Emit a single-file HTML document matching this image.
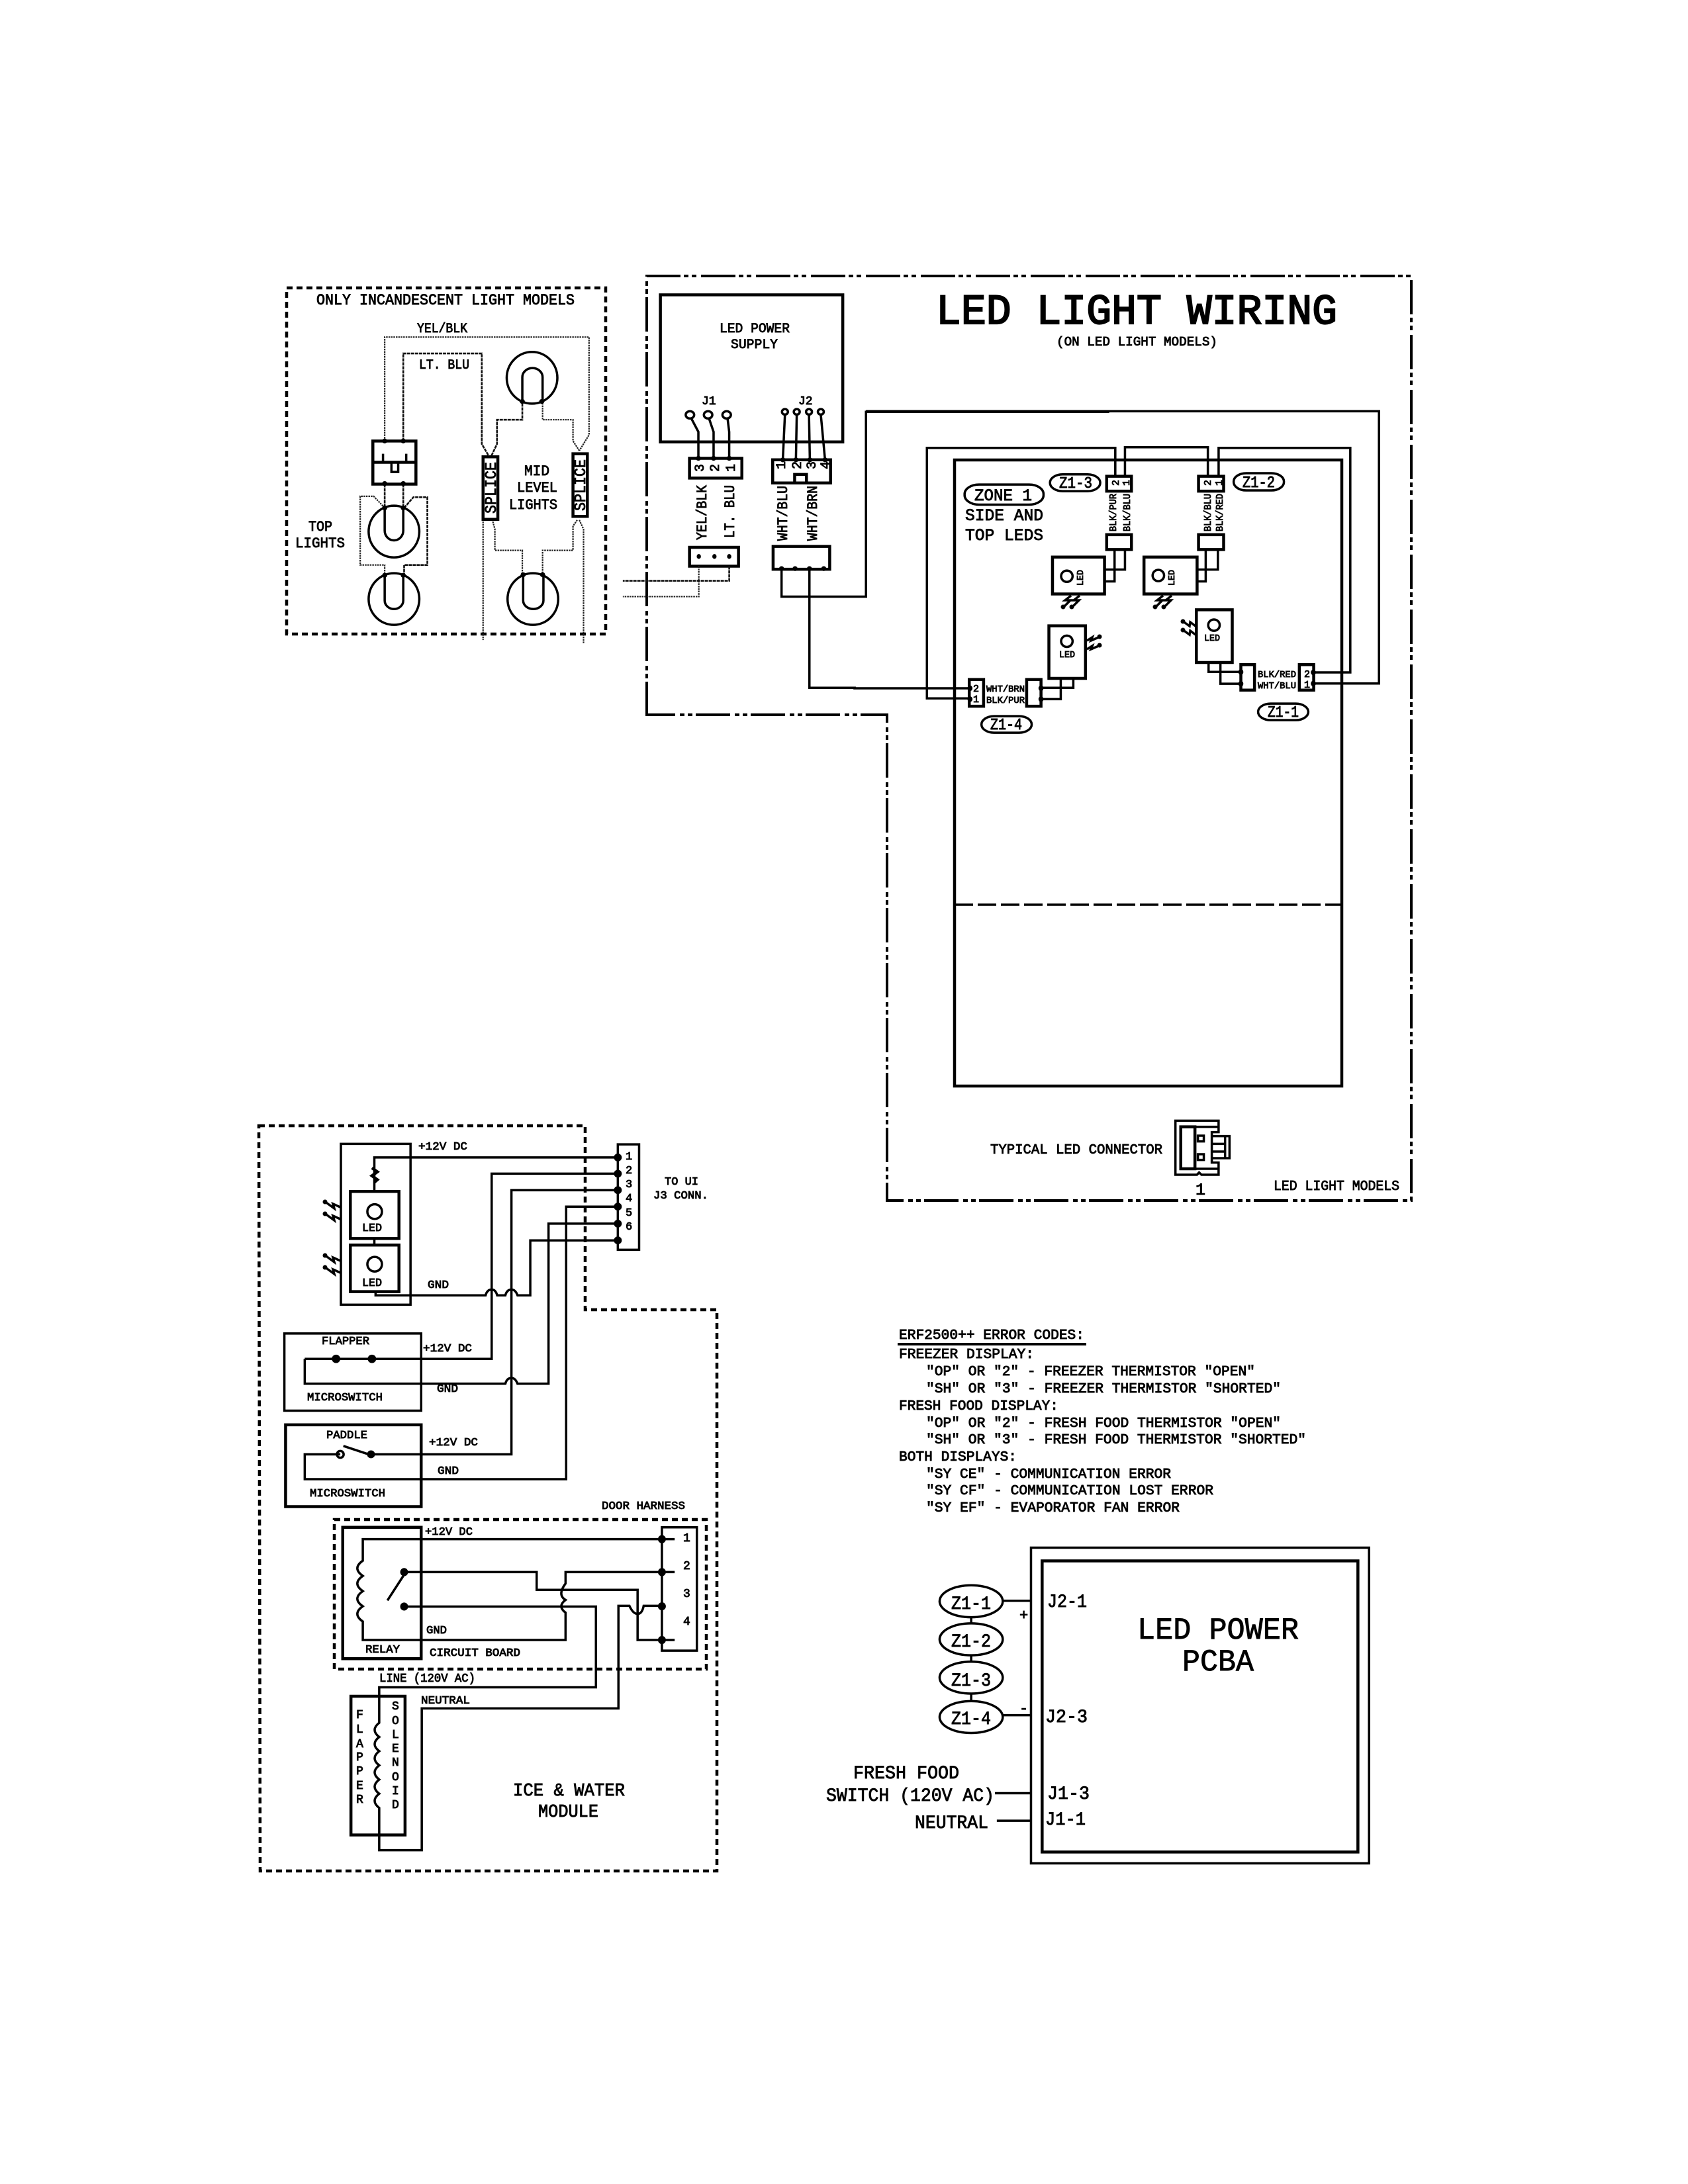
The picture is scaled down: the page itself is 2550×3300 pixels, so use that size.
<!DOCTYPE html>
<html><head><meta charset="utf-8"><style>
html,body{margin:0;padding:0;background:#fff}
svg{display:block}
path,rect,ellipse,line{vector-effect:non-scaling-stroke;fill:none;stroke:#000;stroke-width:3.5;stroke-linejoin:miter}
.k{stroke-width:4.5}
.d{stroke-width:2.2;stroke-dasharray:2.5 1.2;stroke:#222}
.g{stroke-width:2.6;stroke-dasharray:5 1;stroke:#111}
.dot{fill:#000;stroke:none}
.dash{stroke-width:4.5;stroke-dasharray:9 6}
.dd{stroke-width:4;stroke-dasharray:52 5 7 5 7 7}
text{font-family:"Liberation Mono",monospace;font-weight:normal;fill:#000;stroke:#000;stroke-width:.9;font-size:20px}
</style></head><body>
<svg width="2550" height="3300" viewBox="0 0 2550 3300" xmlns="http://www.w3.org/2000/svg">
<rect x="0" y="0" width="2550" height="3300" style="fill:#fff;stroke:none"/>

<!-- outer dashed boxes -->
<path class="dash" d="M433,435 H915 V958 H433 Z"/>
<path class="dd" d="M977,1082 V417 H2132 V1814 H1340 V1080 H977"/>
<path class="dash" d="M391,1701 H884 V1979 H1083 V2827 H393 Z"/>
<path class="dash" d="M505,2296 H1067 V2522 H505 Z"/>

<!-- incandescent -->
<g transform="translate(400 400) scale(.6378 .4592)">
<path class="d" d="M284,580 V238 H768 V560 L745,612"/>
<path class="g" d="M328,580 V292 H514 V590 L530,628"/>
<path class="k" d="M517,632 H552 V838 H517 Z M730,622 H764 V828 H730 Z"/>
<path class="g" d="M537,628 L550,590 V510 H610 V450"/>
<path class="d" d="M745,612 L730,580 V510 H658 V450"/>
<path class="d" d="M517,845 V1235 M540,845 L545,870 V940 H610 V1020 M740,840 L730,860 V940 H658 V1020 M745,840 L755,870 V1245"/>
<ellipse cx="633" cy="372" rx="60" ry="85"/><path d="M610,450 V370 a24,30 0 0 1 48,0 V450"/>
<ellipse cx="635" cy="1100" rx="60" ry="85"/><path d="M612,1020 V1105 a24,28 0 0 0 48,0 V1020"/>
<ellipse cx="306" cy="878" rx="60" ry="85"/><path d="M284,800 V875 a22,32 0 0 0 44,0 V800"/>
<ellipse cx="306" cy="1100" rx="60" ry="85"/><path d="M284,1022 V1105 a22,28 0 0 0 44,0 V1022"/>
<path class="k" d="M256,580 H358 V722 H256 Z M256,650 H358"/>
<path d="M300,650 V682 H316 V650 M280,622 V650 M335,622 V650"/>
<path class="g" d="M284,722 V800 M328,722 V800"/>
<path class="d" d="M284,800 L258,762 H226 V988 H284 V1022"/>
<path class="g" d="M330,800 L352,765 H385 V988 H330 V1022"/>
<ellipse class="dot" cx="284" cy="580" rx="6" ry="8"/><ellipse class="dot" cx="328" cy="580" rx="6" ry="8"/>
<ellipse class="dot" cx="284" cy="720" rx="6" ry="8"/><ellipse class="dot" cx="328" cy="720" rx="6" ry="8"/>
<ellipse class="dot" cx="284" cy="800" rx="6" ry="8"/><ellipse class="dot" cx="328" cy="800" rx="6" ry="8"/>
<ellipse class="dot" cx="284" cy="1022" rx="6" ry="8"/><ellipse class="dot" cx="328" cy="1022" rx="6" ry="8"/>
<ellipse class="dot" cx="610" cy="450" rx="6" ry="8"/><ellipse class="dot" cx="656" cy="450" rx="6" ry="8"/>
<ellipse class="dot" cx="612" cy="1020" rx="6" ry="8"/><ellipse class="dot" cx="658" cy="1020" rx="6" ry="8"/>

<!-- power supply -->
<path class="k" d="M937,99 H1369 V583 H937 Z"/>
<ellipse cx="1007" cy="494" rx="10" ry="12"/><ellipse cx="1050" cy="494" rx="10" ry="12"/><ellipse cx="1094" cy="494" rx="10" ry="12"/>
<ellipse cx="1232" cy="484" rx="7" ry="9"/><ellipse cx="1260" cy="484" rx="7" ry="9"/><ellipse cx="1289" cy="484" rx="7" ry="9"/><ellipse cx="1317" cy="484" rx="7" ry="9"/>
<path d="M1010,505 L1027,550 V637 M1052,505 L1063,550 V637 M1096,505 L1100,550 V637 M1232,493 L1227,642 M1260,493 L1258,642 M1289,493 L1291,642 M1317,493 L1327,642"/>
<path class="k" d="M1006,637 H1130 V702 H1006 Z M1203,642 H1340 V718 H1203 Z M1255,718 V690 H1283 V718"/>
<path d="M1006,930 H1122 V992 H1006 Z M1204,927 H1338 V1002 H1204 Z" class="k"/>
<ellipse class="dot" cx="1027" cy="637" rx="6" ry="8"/><ellipse class="dot" cx="1063" cy="637" rx="6" ry="8"/><ellipse class="dot" cx="1100" cy="637" rx="6" ry="8"/>
<ellipse class="dot" cx="1227" cy="642" rx="6" ry="8"/><ellipse class="dot" cx="1258" cy="642" rx="6" ry="8"/><ellipse class="dot" cx="1291" cy="642" rx="6" ry="8"/><ellipse class="dot" cx="1327" cy="642" rx="6" ry="8"/>
<ellipse class="dot" cx="1028" cy="960" rx="5" ry="8"/><ellipse class="dot" cx="1065" cy="960" rx="5" ry="8"/><ellipse class="dot" cx="1100" cy="960" rx="5" ry="8"/>
<ellipse class="dot" cx="1224" cy="1000" rx="6" ry="8"/><ellipse class="dot" cx="1256" cy="1000" rx="6" ry="8"/><ellipse class="dot" cx="1290" cy="1000" rx="6" ry="8"/><ellipse class="dot" cx="1324" cy="1000" rx="6" ry="8"/>
<path class="d" d="M1028,992 V1092 H848"/>
<path class="g" d="M1100,992 V1040 H848"/>
<path d="M1224,1000 V1092 H1424 V484 H2000"/>
<path d="M1290,1000 V1392 H1400"/>
</g>

<!-- LED wiring -->
<g transform="translate(1300 600) scale(.542 .3571)">
<path d="M15,60 H1445 V1212 H1262"/>
<path d="M710,335 V215 H185 V1275 H305 M737,335 V212 H968 V335 M998,335 V215 H1365 V1165 H1262 M-20,1232 H305"/>
<path class="k" d="M686,335 H755 V398 H686 Z M942,335 H1012 V398 H942 Z M686,582 H755 V645 H686 Z M942,582 H1012 V645 H942 Z"/>
<path d="M708,645 V780 H682 M737,645 V730 H682 M962,645 V780 H938 M996,645 V730 H938"/>
<path class="k" d="M535,677 H680 V833 H535 Z M790,677 H938 V833 H790 Z M525,968 H627 V1190 H525 Z M936,900 H1036 V1123 H936 Z"/>
<ellipse cx="575" cy="758" rx="16" ry="24"/><ellipse cx="830" cy="755" rx="16" ry="24"/><ellipse cx="575" cy="1033" rx="16" ry="24"/><ellipse cx="985" cy="965" rx="16" ry="24"/>
<path class="k" d="M303,1195 H343 V1308 H303 Z M463,1195 H503 V1308 H463 Z M1060,1132 H1098 V1240 H1060 Z M1223,1132 H1263 V1240 H1223 Z"/>
<path d="M503,1230 H593 V1190 M503,1278 H558 V1190 M970,1123 V1163 H1060 M1003,1123 V1213 H1060"/>
<ellipse class="dot" cx="305" cy="1232" rx="7" ry="12"/><ellipse class="dot" cx="305" cy="1278" rx="7" ry="12"/><ellipse class="dot" cx="503" cy="1232" rx="7" ry="12"/><ellipse class="dot" cx="503" cy="1278" rx="7" ry="12"/>
<ellipse class="dot" cx="1060" cy="1163" rx="7" ry="12"/><ellipse class="dot" cx="1060" cy="1213" rx="7" ry="12"/><ellipse class="dot" cx="1262" cy="1165" rx="7" ry="12"/><ellipse class="dot" cx="1262" cy="1212" rx="7" ry="12"/>
<rect x="528" y="327" width="140" height="71" rx="35" ry="35"/>
<rect x="1040" y="322" width="140" height="73" rx="35" ry="35"/>
<rect x="290" y="370" width="220" height="85" rx="40" ry="40"/>
<rect x="337" y="1350" width="140" height="70" rx="35" ry="35"/>
<rect x="1108" y="1297" width="140" height="70" rx="35" ry="35"/>
</g>
<path class="k" d="M1442,1641 V695 H2027 V1641 Z"/>
<path d="M1442,1367 H2027" style="stroke-dasharray:28 7;stroke-width:3.5"/>

<!-- lightning marks -->
<path d="M1618,900 L1609,907 L1617,907 L1606,918 M1631,900 L1622,907 L1630,907 L1619,918"/>
<path d="M1757,900 L1748,907 L1756,907 L1745,918 M1770,900 L1761,907 L1769,907 L1758,918"/>
<path d="M1642,968 L1650,963 L1648,968 L1662,962 M1642,981 L1650,976 L1648,981 L1662,975"/>
<path d="M1806,946 L1798,940 L1797,946 L1786,938 M1806,959 L1798,953 L1797,959 L1786,951"/>
<path d="M514,1824 L503,1819 L505,1826 L490,1815 M514,1842 L503,1837 L505,1844 L490,1833"/>
<path d="M514,1905 L503,1900 L505,1907 L490,1896 M514,1923 L503,1918 L505,1925 L490,1914"/>
<ellipse class="dot" cx="1606" cy="917" rx="3.5" ry="3.5"/><ellipse class="dot" cx="1619" cy="917" rx="3.5" ry="3.5"/>
<ellipse class="dot" cx="1745" cy="917" rx="3.5" ry="3.5"/><ellipse class="dot" cx="1758" cy="917" rx="3.5" ry="3.5"/>
<ellipse class="dot" cx="1661" cy="962" rx="3.5" ry="3.5"/><ellipse class="dot" cx="1661" cy="975" rx="3.5" ry="3.5"/>
<ellipse class="dot" cx="1787" cy="939" rx="3.5" ry="3.5"/><ellipse class="dot" cx="1787" cy="952" rx="3.5" ry="3.5"/>
<ellipse class="dot" cx="491" cy="1816" rx="3.5" ry="3.5"/><ellipse class="dot" cx="491" cy="1834" rx="3.5" ry="3.5"/>
<ellipse class="dot" cx="491" cy="1897" rx="3.5" ry="3.5"/><ellipse class="dot" cx="491" cy="1915" rx="3.5" ry="3.5"/>

<!-- typical connector -->
<g transform="translate(1440 1640) scale(.4464 .3333)">
<path d="M898,212 V160 H752 V405 H825 L832,395 L840,405 H898 V350 H875 V212 Z"/>
<path class="k" d="M770,188 H818 V378 H770 Z"/>
<path d="M818,188 H898 M818,378 H898 M875,230 H935 V330 H875 M920,230 V330 M875,265 H920 M875,300 H920"/>
<rect x="828" y="228" width="20" height="26"/><rect x="828" y="312" width="20" height="26"/>
</g>

<!-- door harness top -->
<g transform="translate(380 1660) scale(.4592 .3952)">
<path d="M294,173 H523 V788 H294 Z"/>
<path d="M404,350 V225 H1205"/>
<path class="k" d="M396,265 L414,280 L396,295 L414,310 L404,320"/>
<path class="k" d="M325,355 H485 V535 H325 Z M325,560 H485 V738 H325 Z"/>
<path d="M404,535 V560"/>
<ellipse cx="405" cy="432" rx="24" ry="28"/><ellipse cx="405" cy="633" rx="24" ry="28"/>
<path d="M408,738 V752 H770 Q775,730 790,730 Q803,730 808,752 H835 Q840,730 855,730 Q868,730 875,752 H917 V542 H1205"/>
<path d="M175,995 H790 V287 H1205"/>
<path d="M175,995 V1090 H835 Q840,1068 855,1068 Q868,1068 875,1090 H977 V478 H1205"/>
<path d="M292,1360 H175 V1455 H1035 V413 H1205"/>
<path d="M393,1360 H855 V350 H1205"/>
<path d="M302,1328 L385,1360"/>
<path d="M108,898 H558 V1193 H108 Z"/>
<path class="k" d="M112,1247 H558 V1560 H112 Z"/>
<path d="M1205,175 H1275 V578 H1205 Z"/>
<ellipse class="dot" cx="278" cy="995" rx="14" ry="16"/><ellipse class="dot" cx="396" cy="995" rx="14" ry="16"/>
<ellipse cx="292" cy="1360" rx="11" ry="13"/><ellipse class="dot" cx="393" cy="1360" rx="13" ry="15"/>
<ellipse class="dot" cx="1205" cy="225" rx="13" ry="15"/><ellipse class="dot" cx="1205" cy="287" rx="13" ry="15"/><ellipse class="dot" cx="1205" cy="350" rx="13" ry="15"/><ellipse class="dot" cx="1205" cy="413" rx="13" ry="15"/><ellipse class="dot" cx="1205" cy="478" rx="13" ry="15"/><ellipse class="dot" cx="1205" cy="542" rx="13" ry="15"/>
</g>

<!-- relay -->
<g transform="translate(380 2230) scale(.4592 .3827)">
<path class="k" d="M300,203 H558 V722 H300 Z"/>
<path d="M1392,250 H366 V335 Q330,365 366,395 Q330,425 366,455 Q330,485 366,515 Q330,545 366,575 V648 H1033 V540 Q1005,515 1033,490 Q1005,470 1033,425 V380 H1392"/>
<path d="M502,390 L447,492"/>
<path d="M502,380 H938 V450 H1270 V648 H1392"/>
<path d="M502,516 H1133 V835 H420 V975 Q390,1003 420,1031 Q390,1059 420,1087 Q390,1115 420,1143 Q390,1171 420,1199 Q390,1227 420,1255 Q390,1283 420,1311 V1478 H560 V918 H1207 V513 H1243 Q1255,545 1270,545 Q1285,545 1290,513 H1350"/>
<path d="M1350,250 V203 H1465 V690 H1350 V250"/>
<ellipse class="dot" cx="502" cy="380" rx="13" ry="16"/><ellipse class="dot" cx="502" cy="516" rx="13" ry="16"/>
<ellipse class="dot" cx="1350" cy="250" rx="13" ry="16"/><ellipse class="dot" cx="1350" cy="380" rx="13" ry="16"/><ellipse class="dot" cx="1350" cy="515" rx="13" ry="16"/><ellipse class="dot" cx="1350" cy="648" rx="13" ry="16"/>
<path class="k" d="M327,870 H505 V1418 H327 Z"/>
</g>

<!-- PCBA -->
<g transform="translate(1200 2280) scale(.5612 .3444)">
<path d="M637,170 H1547 V1555 H637 Z"/>
<path class="k" d="M667,228 H1517 V1505 H667 Z"/>
<ellipse cx="476" cy="405" rx="85" ry="70"/><ellipse cx="476" cy="572" rx="85" ry="70"/><ellipse cx="476" cy="740" rx="85" ry="70"/><ellipse cx="476" cy="913" rx="85" ry="70"/>
<path d="M476,475 V502 M476,642 V670 M476,810 V843 M562,403 H637 M562,905 H637 M540,1247 H637 M545,1368 H637"/>
</g>
<line x1="1356" y1="2031" x2="1641" y2="2031" style="stroke-width:4"/>

<!-- TEXT: incandescent -->
<text x="478" y="460" textLength="390" lengthAdjust="spacingAndGlyphs" style="font-size:23px">ONLY INCANDESCENT LIGHT MODELS</text>
<text x="630" y="502" textLength="76" lengthAdjust="spacingAndGlyphs">YEL/BLK</text>
<text x="633" y="557" textLength="76" lengthAdjust="spacingAndGlyphs">LT. BLU</text>
<text x="466" y="802" textLength="36" lengthAdjust="spacingAndGlyphs" style="font-size:22px">TOP</text>
<text x="446" y="827" textLength="75" lengthAdjust="spacingAndGlyphs" style="font-size:22px">LIGHTS</text>
<text x="792" y="718" textLength="38" lengthAdjust="spacingAndGlyphs" style="font-size:22px">MID</text>
<text x="781" y="743" textLength="61" lengthAdjust="spacingAndGlyphs" style="font-size:22px">LEVEL</text>
<text x="769" y="769" textLength="73" lengthAdjust="spacingAndGlyphs" style="font-size:22px">LIGHTS</text>
<text transform="translate(741 737) rotate(-90)" x="-39" y="8" textLength="78" lengthAdjust="spacingAndGlyphs" style="font-size:24px">SPLICE</text>
<text transform="translate(876 733) rotate(-90)" x="-39" y="8" textLength="78" lengthAdjust="spacingAndGlyphs" style="font-size:24px">SPLICE</text>
<text x="1087" y="502" textLength="106" lengthAdjust="spacingAndGlyphs">LED POWER</text>
<text x="1104" y="526" textLength="71" lengthAdjust="spacingAndGlyphs">SUPPLY</text>
<text x="1060" y="611" style="font-size:18px">J1</text>
<text x="1206" y="611" style="font-size:18px">J2</text>
<text transform="translate(1056 707) rotate(-90)" x="-6" y="7" style="font-size:20px">3</text>
<text transform="translate(1079 707) rotate(-90)" x="-6" y="7" style="font-size:20px">2</text>
<text transform="translate(1103 707) rotate(-90)" x="-6" y="7" style="font-size:20px">1</text>
<text transform="translate(1179 703) rotate(-90)" x="-6" y="7" style="font-size:20px">1</text>
<text transform="translate(1203 703) rotate(-90)" x="-6" y="7" style="font-size:20px">2</text>
<text transform="translate(1225 703) rotate(-90)" x="-6" y="7" style="font-size:20px">3</text>
<text transform="translate(1246 703) rotate(-90)" x="-6" y="7" style="font-size:20px">4</text>
<text transform="translate(1059 775) rotate(-90)" x="-41" y="8" textLength="83" lengthAdjust="spacingAndGlyphs" style="font-size:22px">YEL/BLK</text>
<text transform="translate(1101 773) rotate(-90)" x="-40" y="8" textLength="80" lengthAdjust="spacingAndGlyphs" style="font-size:22px">LT. BLU</text>
<text transform="translate(1181 776) rotate(-90)" x="-41" y="8" textLength="83" lengthAdjust="spacingAndGlyphs" style="font-size:22px">WHT/BLU</text>
<text transform="translate(1226 776) rotate(-90)" x="-41" y="8" textLength="83" lengthAdjust="spacingAndGlyphs" style="font-size:22px">WHT/BRN</text>

<!-- TEXT: LED wiring -->
<text x="1414" y="489" textLength="606" lengthAdjust="spacingAndGlyphs" style="font-size:64px;stroke-width:2.2">LED LIGHT WIRING</text>
<text x="1596" y="522" textLength="243" lengthAdjust="spacingAndGlyphs" style="font-size:19px">(ON LED LIGHT MODELS)</text>
<text x="1472" y="756" textLength="87" lengthAdjust="spacingAndGlyphs" style="font-size:25px">ZONE 1</text>
<text x="1458" y="786" textLength="118" lengthAdjust="spacingAndGlyphs" style="font-size:25px">SIDE AND</text>
<text x="1458" y="816" textLength="118" lengthAdjust="spacingAndGlyphs" style="font-size:25px">TOP LEDS</text>
<text x="1600" y="737" textLength="50" lengthAdjust="spacingAndGlyphs" style="font-size:24px">Z1-3</text>
<text x="1877" y="736" textLength="49" lengthAdjust="spacingAndGlyphs" style="font-size:24px">Z1-2</text>
<text x="1496" y="1102" textLength="48" lengthAdjust="spacingAndGlyphs" style="font-size:24px">Z1-4</text>
<text x="1915" y="1083" textLength="47" lengthAdjust="spacingAndGlyphs" style="font-size:24px">Z1-1</text>
<text transform="translate(1680 774) rotate(-90)" x="-29" y="6" textLength="57" lengthAdjust="spacingAndGlyphs" style="font-size:15px">BLK/PUR</text>
<text transform="translate(1701 774) rotate(-90)" x="-29" y="6" textLength="57" lengthAdjust="spacingAndGlyphs" style="font-size:15px">BLK/BLU</text>
<text transform="translate(1823 774) rotate(-90)" x="-29" y="6" textLength="57" lengthAdjust="spacingAndGlyphs" style="font-size:15px">BLK/BLU</text>
<text transform="translate(1841 774) rotate(-90)" x="-29" y="6" textLength="57" lengthAdjust="spacingAndGlyphs" style="font-size:15px">BLK/RED</text>
<text transform="translate(1685 730) rotate(-90)" x="-4" y="5" style="font-size:15px">2</text>
<text transform="translate(1701 730) rotate(-90)" x="-4" y="5" style="font-size:15px">1</text>
<text transform="translate(1824 730) rotate(-90)" x="-4" y="5" style="font-size:15px">2</text>
<text transform="translate(1841 730) rotate(-90)" x="-4" y="5" style="font-size:15px">1</text>
<text transform="translate(1631 873) rotate(-90)" x="-12" y="5" textLength="24" lengthAdjust="spacingAndGlyphs" style="font-size:14px">LED</text>
<text transform="translate(1769 873) rotate(-90)" x="-12" y="5" textLength="24" lengthAdjust="spacingAndGlyphs" style="font-size:14px">LED</text>
<text x="1600" y="993" textLength="24" lengthAdjust="spacingAndGlyphs" style="font-size:14px">LED</text>
<text x="1819" y="968" textLength="24" lengthAdjust="spacingAndGlyphs" style="font-size:14px">LED</text>
<text x="1490" y="1045" textLength="58" lengthAdjust="spacingAndGlyphs" style="font-size:14px">WHT/BRN</text>
<text x="1490" y="1062" textLength="58" lengthAdjust="spacingAndGlyphs" style="font-size:14px">BLK/PUR</text>
<text x="1900" y="1023" textLength="58" lengthAdjust="spacingAndGlyphs" style="font-size:14px">BLK/RED</text>
<text x="1900" y="1040" textLength="58" lengthAdjust="spacingAndGlyphs" style="font-size:14px">WHT/BLU</text>
<text x="1470" y="1045" style="font-size:15px">2</text>
<text x="1470" y="1061" style="font-size:15px">1</text>
<text x="1970" y="1023" style="font-size:15px">2</text>
<text x="1970" y="1039" style="font-size:15px">1</text>
<text x="1496" y="1743" textLength="260" lengthAdjust="spacingAndGlyphs" style="font-size:21px">TYPICAL LED CONNECTOR</text>
<text x="1924" y="1798" textLength="190" lengthAdjust="spacingAndGlyphs" style="font-size:21px">LED LIGHT MODELS</text>
<text x="1806" y="1805" style="font-size:25px">1</text>

<!-- TEXT: door harness -->
<text x="632" y="1737" textLength="74" lengthAdjust="spacingAndGlyphs" style="font-size:17px">+12V DC</text>
<text x="646" y="1946" textLength="32" lengthAdjust="spacingAndGlyphs" style="font-size:17px">GND</text>
<text x="639" y="2042" textLength="74" lengthAdjust="spacingAndGlyphs" style="font-size:17px">+12V DC</text>
<text x="660" y="2103" textLength="32" lengthAdjust="spacingAndGlyphs" style="font-size:17px">GND</text>
<text x="648" y="2184" textLength="74" lengthAdjust="spacingAndGlyphs" style="font-size:17px">+12V DC</text>
<text x="661" y="2227" textLength="32" lengthAdjust="spacingAndGlyphs" style="font-size:17px">GND</text>
<text x="486" y="2031" textLength="72" lengthAdjust="spacingAndGlyphs" style="font-size:17px">FLAPPER</text>
<text x="464" y="2116" textLength="114" lengthAdjust="spacingAndGlyphs" style="font-size:17px">MICROSWITCH</text>
<text x="493" y="2173" textLength="62" lengthAdjust="spacingAndGlyphs" style="font-size:17px">PADDLE</text>
<text x="468" y="2261" textLength="114" lengthAdjust="spacingAndGlyphs" style="font-size:17px">MICROSWITCH</text>
<text x="1004" y="1790" textLength="51" lengthAdjust="spacingAndGlyphs" style="font-size:17px">TO UI</text>
<text x="987" y="1811" textLength="83" lengthAdjust="spacingAndGlyphs" style="font-size:17px">J3 CONN.</text>
<text x="945" y="1752" style="font-size:17px">1</text>
<text x="945" y="1773" style="font-size:17px">2</text>
<text x="945" y="1794" style="font-size:17px">3</text>
<text x="945" y="1815" style="font-size:17px">4</text>
<text x="945" y="1837" style="font-size:17px">5</text>
<text x="945" y="1858" style="font-size:17px">6</text>
<text x="547" y="1860" textLength="30" lengthAdjust="spacingAndGlyphs" style="font-size:17px">LED</text>
<text x="547" y="1943" textLength="30" lengthAdjust="spacingAndGlyphs" style="font-size:17px">LED</text>

<!-- TEXT: relay -->
<text x="909" y="2280" textLength="126" lengthAdjust="spacingAndGlyphs" style="font-size:17px">DOOR HARNESS</text>
<text x="642" y="2319" textLength="72" lengthAdjust="spacingAndGlyphs" style="font-size:17px">+12V DC</text>
<text x="644" y="2468" textLength="31" lengthAdjust="spacingAndGlyphs" style="font-size:17px">GND</text>
<text x="552" y="2497" textLength="52" lengthAdjust="spacingAndGlyphs" style="font-size:17px">RELAY</text>
<text x="649" y="2502" textLength="137" lengthAdjust="spacingAndGlyphs" style="font-size:17px">CIRCUIT BOARD</text>
<text x="573" y="2541" textLength="145" lengthAdjust="spacingAndGlyphs" style="font-size:18px">LINE (120V AC)</text>
<text x="636" y="2574" textLength="74" lengthAdjust="spacingAndGlyphs" style="font-size:17px">NEUTRAL</text>
<text x="775" y="2713" textLength="169" lengthAdjust="spacingAndGlyphs" style="font-size:27px">ICE &amp; WATER</text>
<text x="813" y="2745" textLength="91" lengthAdjust="spacingAndGlyphs" style="font-size:27px">MODULE</text>
<text x="1032" y="2329" style="font-size:18px">1</text>
<text x="1032" y="2371" style="font-size:18px">2</text>
<text x="1032" y="2413" style="font-size:18px">3</text>
<text x="1032" y="2455" style="font-size:18px">4</text>
<text x="538" y="2596" style="font-size:18px">F</text>
<text x="538" y="2618" style="font-size:18px">L</text>
<text x="538" y="2640" style="font-size:18px">A</text>
<text x="538" y="2660" style="font-size:18px">P</text>
<text x="538" y="2681" style="font-size:18px">P</text>
<text x="538" y="2703" style="font-size:18px">E</text>
<text x="538" y="2724" style="font-size:18px">R</text>
<text x="592" y="2583" style="font-size:18px">S</text>
<text x="592" y="2605" style="font-size:18px">O</text>
<text x="592" y="2626" style="font-size:18px">L</text>
<text x="592" y="2647" style="font-size:18px">E</text>
<text x="592" y="2668" style="font-size:18px">N</text>
<text x="592" y="2690" style="font-size:18px">O</text>
<text x="592" y="2711" style="font-size:18px">I</text>
<text x="592" y="2732" style="font-size:18px">D</text>

<!-- TEXT: errors -->
<text x="1358" y="2023" textLength="280" lengthAdjust="spacingAndGlyphs" style="font-size:21px">ERF2500++ ERROR CODES:</text>
<text x="1358" y="2052" textLength="204" lengthAdjust="spacingAndGlyphs" style="font-size:21px">FREEZER DISPLAY:</text>
<text x="1399" y="2078" textLength="497" lengthAdjust="spacingAndGlyphs" style="font-size:21px">"OP" OR "2" - FREEZER THERMISTOR "OPEN"</text>
<text x="1399" y="2104" textLength="536" lengthAdjust="spacingAndGlyphs" style="font-size:21px">"SH" OR "3" - FREEZER THERMISTOR "SHORTED"</text>
<text x="1358" y="2130" textLength="241" lengthAdjust="spacingAndGlyphs" style="font-size:21px">FRESH FOOD DISPLAY:</text>
<text x="1399" y="2156" textLength="536" lengthAdjust="spacingAndGlyphs" style="font-size:21px">"OP" OR "2" - FRESH FOOD THERMISTOR "OPEN"</text>
<text x="1399" y="2181" textLength="574" lengthAdjust="spacingAndGlyphs" style="font-size:21px">"SH" OR "3" - FRESH FOOD THERMISTOR "SHORTED"</text>
<text x="1358" y="2207" textLength="178" lengthAdjust="spacingAndGlyphs" style="font-size:21px">BOTH DISPLAYS:</text>
<text x="1399" y="2233" textLength="370" lengthAdjust="spacingAndGlyphs" style="font-size:21px">"SY CE" - COMMUNICATION ERROR</text>
<text x="1399" y="2258" textLength="434" lengthAdjust="spacingAndGlyphs" style="font-size:21px">"SY CF" - COMMUNICATION LOST ERROR</text>
<text x="1399" y="2284" textLength="383" lengthAdjust="spacingAndGlyphs" style="font-size:21px">"SY EF" - EVAPORATOR FAN ERROR</text>

<!-- TEXT: PCBA -->
<text x="1437" y="2431" textLength="60" lengthAdjust="spacingAndGlyphs" style="font-size:28px">Z1-1</text>
<text x="1437" y="2488" textLength="60" lengthAdjust="spacingAndGlyphs" style="font-size:28px">Z1-2</text>
<text x="1437" y="2547" textLength="60" lengthAdjust="spacingAndGlyphs" style="font-size:28px">Z1-3</text>
<text x="1437" y="2605" textLength="60" lengthAdjust="spacingAndGlyphs" style="font-size:28px">Z1-4</text>
<text x="1582" y="2428" textLength="60" lengthAdjust="spacingAndGlyphs" style="font-size:28px">J2-1</text>
<text x="1579" y="2602" textLength="64" lengthAdjust="spacingAndGlyphs" style="font-size:28px">J2-3</text>
<text x="1582" y="2718" textLength="64" lengthAdjust="spacingAndGlyphs" style="font-size:28px">J1-3</text>
<text x="1579" y="2757" textLength="61" lengthAdjust="spacingAndGlyphs" style="font-size:28px">J1-1</text>
<text x="1718" y="2476" textLength="244" lengthAdjust="spacingAndGlyphs" style="font-size:46px">LED POWER</text>
<text x="1786" y="2524" textLength="108" lengthAdjust="spacingAndGlyphs" style="font-size:46px">PCBA</text>
<text x="1289" y="2687" textLength="160" lengthAdjust="spacingAndGlyphs" style="font-size:28px">FRESH FOOD</text>
<text x="1248" y="2721" textLength="254" lengthAdjust="spacingAndGlyphs" style="font-size:28px">SWITCH (120V AC)</text>
<text x="1382" y="2762" textLength="111" lengthAdjust="spacingAndGlyphs" style="font-size:28px">NEUTRAL</text>
<text x="1540" y="2447" style="font-size:22px">+</text>
<text x="1540" y="2588" style="font-size:22px">-</text>
</svg>
</body></html>
